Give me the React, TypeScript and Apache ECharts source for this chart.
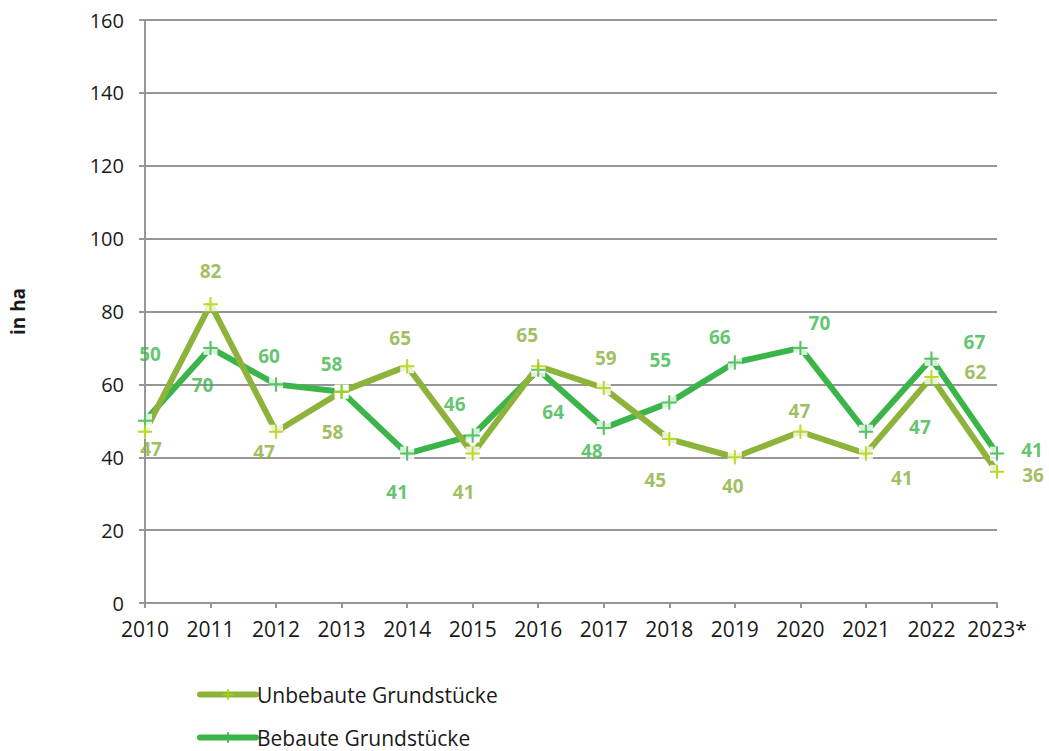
import React, { useEffect, useRef } from "react";
import * as echarts from "echarts";

const categories = ["2010", "2011", "2012", "2013", "2014", "2015", "2016", "2017", "2018", "2019", "2020", "2021", "2022", "2023*"];
const unbebaute = [47, 82, 47, 58, 65, 41, 65, 59, 45, 40, 47, 41, 62, 36];
const bebaute = [50, 70, 60, 58, 41, 46, 64, 48, 55, 66, 70, 47, 67, 41];
const yTicks = [0, 20, 40, 60, 80, 100, 120, 140, 160];
const seriesNames = ["Unbebaute Grundstücke", "Bebaute Grundstücke"];

const unbebauteLabelOffsets = [[6, 17], [0, -33], [-12, 20], [-9, 40], [-7, -28], [-9, 38], [-11, -31], [2, -30], [-14, 41], [-2, 29], [-1, -21], [36, 24], [44, -5], [36, 3]];
const bebauteLabelOffsets = [[5, -67], [-8, 37], [-7, -28], [-10, -28], [-10, 38], [-18, -31], [15, 42], [-12, 23], [-9, -43], [-15, -26], [19, -25], [54, -5], [43, -17], [35, -4]];

const FONT = "'Open Sans', 'Noto Sans', sans-serif";
const PLUS = "path://M6,0H8V6H14V8H8V14H6V8H0V6H6Z";

const OLIVE = "#8DB33B";
const OLIVE_PLUS = "#AFD200";
const OLIVE_LABEL = "#8AAE3A";
const GREEN = "#3BB54A";
const GREEN_LABEL = "#3BB54A";

export default function App() {
  const ref = useRef<HTMLDivElement>(null);
  useEffect(() => {
    if (!ref.current) return;
    const chart = echarts.init(ref.current, null, { renderer: "svg" });
    const mkLabels = (vals: number[], offs: number[][], color: string) =>
      vals.map((v, i) => ({
        value: v,
        label: {
          show: true,
          position: "inside",
          offset: offs[i],
          color,
          fontFamily: FONT,
          fontWeight: "bold",
          fontSize: 19,
          lineHeight: 17,
          formatter: String(v),
        },
      }));
    const lineSeries = (name: string, data: number[], lineColor: string, plusColor: string) => ({
      name,
      type: "line",
      data,
      symbol: PLUS,
      symbolSize: 14,
      showSymbol: true,
      itemStyle: { color: plusColor },
      lineStyle: { color: lineColor, width: 6 },
      z: 2,
      silent: true,
    });
    const whiteBoxes = (data: number[]) => ({
      type: "scatter",
      data,
      symbol: "rect",
      symbolSize: 14,
      itemStyle: { color: "#ffffff" },
      z: 5,
      silent: true,
    });
    const pluses = (data: any[], color: string) => ({
      type: "scatter",
      data,
      symbol: PLUS,
      symbolSize: 14,
      itemStyle: { color },
      z: 6,
      silent: true,
    });
    const legendBase = {
      left: 192,
      itemWidth: 56,
      itemHeight: 14,
      selectedMode: false,
      lineStyle: { width: 6, cap: "round" },
      textStyle: { fontFamily: FONT, fontSize: 21, color: "#1a1a1a", padding: [0, 0, 0, -4] },
    };
    chart.setOption({
      animation: false,
      backgroundColor: "#ffffff",
      grid: { left: 145, right: 52, top: 20, bottom: 148, containLabel: false },
      legend: [
        { ...legendBase, data: [seriesNames[0]], top: 679 },
        { ...legendBase, data: [seriesNames[1]], top: 722 },
      ],
      xAxis: {
        type: "category",
        data: categories,
        boundaryGap: false,
        axisLine: { lineStyle: { color: "#969696", width: 2 } },
        axisTick: { show: true, length: 5, lineStyle: { color: "#969696", width: 2 } },
        axisLabel: { color: "#1a1a1a", fontFamily: FONT, fontSize: 21, margin: 15, interval: 0 },
      },
      yAxis: {
        type: "value",
        min: yTicks[0],
        max: yTicks[yTicks.length - 1],
        interval: 20,
        name: "in ha",
        nameLocation: "middle",
        nameRotate: 90,
        nameGap: 118,
        nameTextStyle: { fontFamily: FONT, fontSize: 19, fontWeight: "bold", color: "#1a1a1a" },
        axisLine: { show: true, lineStyle: { color: "#969696", width: 2 } },
        axisTick: { show: true, length: 6, lineStyle: { color: "#969696", width: 2 } },
        splitLine: { show: true, lineStyle: { color: "#969696", width: 2 } },
        axisLabel: { color: "#1a1a1a", fontFamily: FONT, fontSize: 20, margin: 21 },
      },
      series: [
        lineSeries(seriesNames[1], bebaute, GREEN, GREEN),
        lineSeries(seriesNames[0], unbebaute, OLIVE, OLIVE_PLUS),
        whiteBoxes(bebaute),
        whiteBoxes(unbebaute),
        pluses(mkLabels(bebaute, bebauteLabelOffsets, GREEN_LABEL), GREEN),
        pluses(mkLabels(unbebaute, unbebauteLabelOffsets, OLIVE_LABEL), OLIVE_PLUS),
      ],
    });
    return () => chart.dispose();
  }, []);
  return (
    <div
      ref={ref}
      style={{ position: "fixed", left: 0, top: 0, width: 1049, height: 751, background: "#fff" }}
    />
  );
}
